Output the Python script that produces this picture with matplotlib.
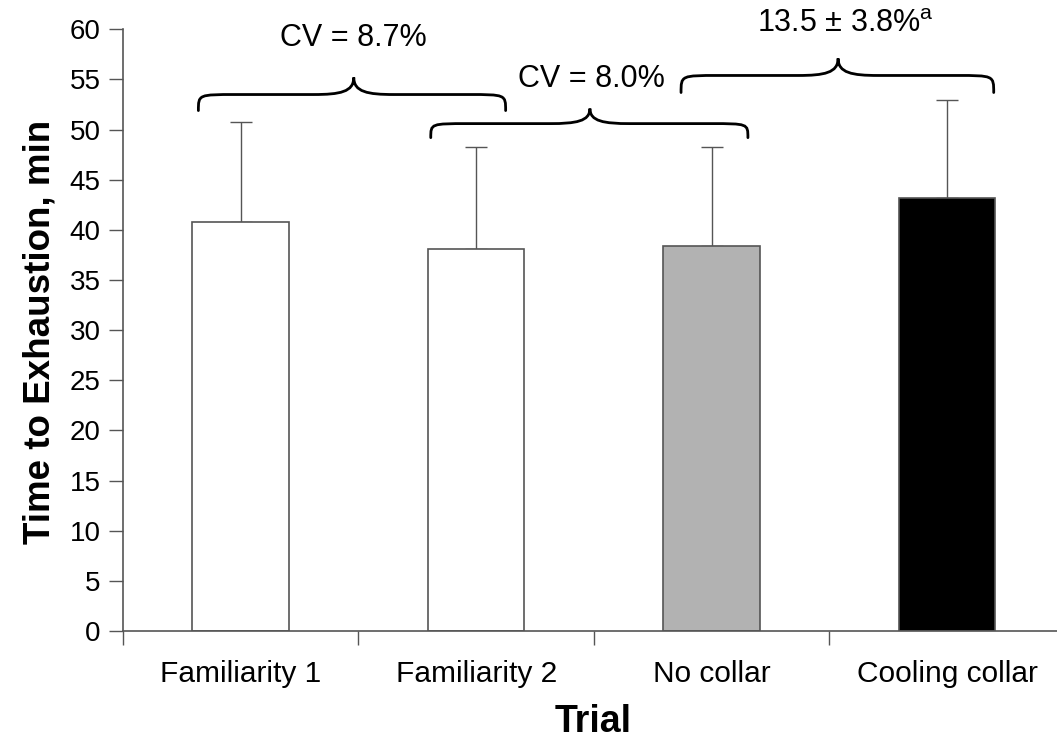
import numpy as np
import matplotlib
matplotlib.use("Agg")
import matplotlib.pyplot as plt
from matplotlib.path import Path
from matplotlib.patches import PathPatch

plt.rcParams['font.family'] = ['Liberation Sans', 'DejaVu Sans']

trials = ["Familiarity 1", "Familiarity 2", "No collar", "Cooling collar"]
means = [40.8, 38.1, 38.4, 43.2]
sds = [10.0, 10.2, 9.9, 9.8]
colors = ["white", "white", "#b2b2b2", "black"]

# braces: (left, right, tip x, end y, line y, tip y)
braces = [(-0.18, 1.125, 0.48, 51.9, 53.5, 55.2),
          (0.807, 2.154, 1.483, 49.2, 50.6, 52.1),
          (1.87, 3.198, 2.537, 53.7, 55.4, 57.1)]
brace_text = ["CV = 8.7%", "CV = 8.0%", r"13.5 ± 3.8%$^{\mathregular{a}}$"]
text_pos = [(0.48, 59.1), (1.49, 55.0), (2.57, 60.5)]


def brace(ax, x1, x2, xm, yb, yl, yt, dx=0.16, dt=0.17):
    verts = [(x1, yb),
             (x1, yl), (x1, yl), (x1 + dx, yl),
             (xm - dt, yl),
             (xm - 0.35 * dt, yl), (xm, yl + 0.15 * (yt - yl)), (xm, yt),
             (xm, yl + 0.15 * (yt - yl)), (xm + 0.35 * dt, yl), (xm + dt, yl),
             (x2 - dx, yl),
             (x2, yl), (x2, yl), (x2, yb)]
    codes = [Path.MOVETO,
             Path.CURVE4, Path.CURVE4, Path.CURVE4,
             Path.LINETO,
             Path.CURVE4, Path.CURVE4, Path.CURVE4,
             Path.CURVE4, Path.CURVE4, Path.CURVE4,
             Path.LINETO,
             Path.CURVE4, Path.CURVE4, Path.CURVE4]
    ax.add_patch(PathPatch(Path(verts, codes), fc="none", ec="black",
                           lw=2.0, clip_on=False, capstyle="round"))


fig = plt.figure(figsize=(10.57, 7.41), dpi=100)
ax = fig.add_axes([0.1164, 0.1484, 0.891, 0.812])

x = np.arange(len(trials))
ax.bar(x, means, width=0.41, color=colors, edgecolor="#555555", linewidth=1.2, zorder=2)
ax.errorbar(x, means, yerr=[np.zeros(len(sds)), sds], fmt="none",
            ecolor="#555555", elinewidth=1.0, capsize=8, capthick=1.0, zorder=1)

for b in braces:
    brace(ax, *b)
for t, (tx, ty) in zip(brace_text, text_pos):
    ax.text(tx, ty, t, ha="center", va="center", fontsize=22, clip_on=False)

ax.set_xlim(-0.5, 3.5)
ax.set_ylim(0, 60)
ax.set_yticks(np.arange(0, 61, 5))
ax.set_xticks(x)
ax.set_xticklabels(trials, fontsize=21.5)
ax.set_xticks(np.arange(-0.5, 3.6, 1.0), minor=True)
ax.tick_params(axis="x", which="major", length=0, pad=21)
ax.tick_params(axis="x", which="minor", length=10, color="#555555", width=1.0)
ax.tick_params(axis="y", length=10, color="#555555", width=1.0, pad=6, labelsize=20)

for s in ["top", "right"]:
    ax.spines[s].set_visible(False)
for s in ["left", "bottom"]:
    ax.spines[s].set_color("#555555")
    ax.spines[s].set_linewidth(1.2)

ax.set_ylabel("Time to Exhaustion, min", fontsize=26.5, fontweight="bold", va="center")
ax.yaxis.set_label_coords(-0.088, 0.497)
ax.set_xlabel("Trial", fontsize=27, fontweight="bold", va="center")
ax.xaxis.set_label_coords(0.499, -0.151)

fig.savefig("out.png", dpi=100)
